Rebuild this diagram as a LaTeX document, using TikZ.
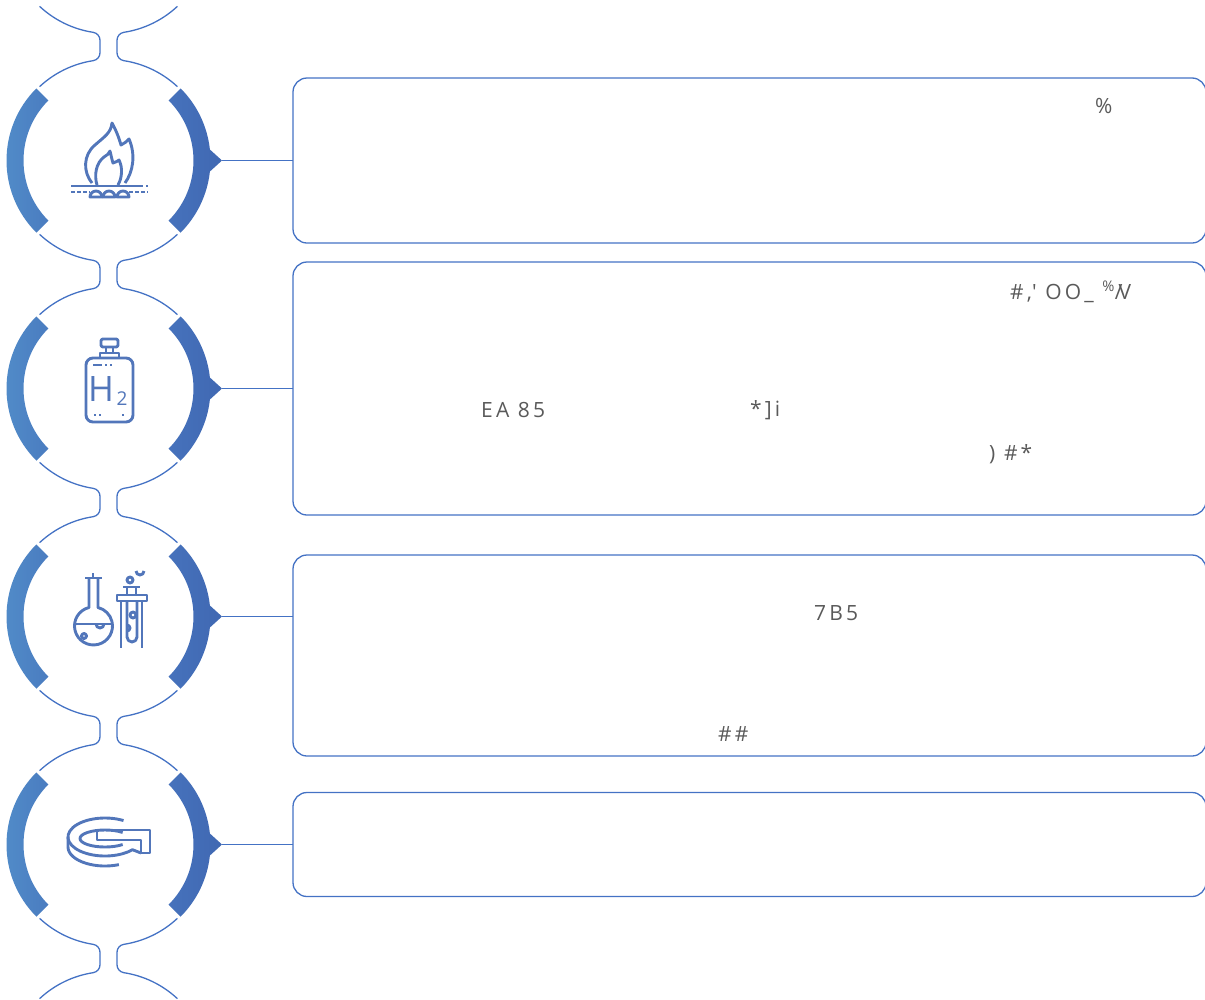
\documentclass[tikz,border=0pt]{standalone}
\usepackage{fontspec}
\setmainfont{Open Sans}
\newfontfamily\txtfont[LetterSpace=15]{Open Sans}
\usetikzlibrary{calc}
\definecolor{thin}{RGB}{68,114,196}
\definecolor{iconc}{RGB}{82,118,186}
\definecolor{arcLa}{RGB}{82,142,202}
\definecolor{arcLb}{RGB}{74,124,192}
\definecolor{arcRa}{RGB}{70,114,188}
\definecolor{arcRb}{RGB}{64,104,178}
\definecolor{txt}{RGB}{90,90,90}
\begin{document}
\begin{tikzpicture}[x=1pt,y=1pt,
  thinline/.style={draw=thin, line width=1.3pt},
  box/.style={draw=thin, line width=1.3pt, rounded corners=14pt, inner sep=0pt, outer sep=0pt},
  icon/.style={draw=iconc, line width=2.9pt, line join=round},
  lbl/.style={text=txt, font=\txtfont\fontsize{21}{25}\selectfont, inner sep=0pt, anchor=west}]
\useasboundingbox (0,0) rectangle (1205,-999);

% thin outline with necks
\foreach \k in {0,...,4} {
  \pgfmathsetmacro\ya{67.5-228*\k}
  \coordinate (A) at (108.5,\ya);
  \draw[thinline] (A) ++(227:101) arc[start angle=227,end angle=261.29,radius=101]
    arc[start angle=81.29,end angle=0,radius=8] -- ++(0,-12.52)
    arc[start angle=0,end angle=-81.29,radius=8]
    arc[start angle=98.71,end angle=133,radius=101];
  \draw[thinline] (A) ++(313:101) arc[start angle=313,end angle=278.71,radius=101]
    arc[start angle=98.71,end angle=180,radius=8] -- ++(0,-12.52)
    arc[start angle=180,end angle=261.29,radius=8]
    arc[start angle=81.29,end angle=47,radius=101];
}

% thick arcs and pointers
\foreach \k/\cy in {1/-160.5,2/-388.5,3/-616.5,4/-844.5} {
  \coordinate (c\k) at (108.5,\cy);
  \coordinate (t\k) at (222,\cy);
  \shade[left color=arcLa, right color=arcLb]
    ($(c\k)+(135:102)$) arc[start angle=135,end angle=225,radius=102]
    -- ($(c\k)+(225:85)$) arc[start angle=225,end angle=135,radius=85] -- cycle;
  \shade[left color=arcRa, right color=arcRb]
    ($(c\k)+(-45:102)$) arc[start angle=-45,end angle=-6.19,radius=102]
    -- (t\k) -- ($(c\k)+(6.19:102)$) arc[start angle=6.19,end angle=45,radius=102]
    -- ($(c\k)+(45:85)$) arc[start angle=45,end angle=-45,radius=85] -- cycle;
}

% boxes
\node[box, minimum width=913pt, minimum height=165pt] (b1) at (749.5,-160.5) {};
\node[box, minimum width=913pt, minimum height=253pt] (b2) at (749.5,-388.5) {};
\node[box, minimum width=913pt, minimum height=201pt] (b3) at (749.5,-655.5) {};
\node[box, minimum width=913pt, minimum height=104pt] (b4) at (749.5,-844.5) {};

% connectors
\draw[thinline] (t1) -- (b1.west);
\draw[thinline] (t2) -- (b2.west);
\draw[thinline] (t3) -- (t3 -| b3.west);
\draw[thinline] (t4) -- (b4.west);

% texts
\node[lbl] (s1) at (1095,-106) {\%};
\node[lbl] (s2) at (1010,-292) {\#,\textquotesingle\ OO\_\ \textsuperscript{\%}/\kern-4pt V};
\node[lbl] (s3) at (481,-410) {EA 85};
\node[lbl] (s4) at (750,-410) {*]i};
\node[lbl] (s5) at (989,-454) {)\ \#*};
\node[lbl] (s6) at (814,-613) {7B5};
\node[lbl] (s7) at (718,-734) {\#\#};

% icon 1: flame on burner
\draw[icon] (92,-183) .. controls (83,-172) and (83,-155) .. (95,-145)
  .. controls (104,-137) and (111,-133) .. (112,-123)
  .. controls (116,-130) and (119,-138) .. (121,-145)
  .. controls (124,-143) and (127,-142) .. (129,-139)
  .. controls (136,-155) and (133,-172) .. (125,-183);
\draw[icon] (97,-185) .. controls (94,-175) and (96,-163) .. (104,-157)
  .. controls (107,-155) and (109,-154) .. (110,-151)
  .. controls (111,-155) and (112,-160) .. (113,-163)
  .. controls (116,-162) and (118,-161) .. (119,-160)
  .. controls (123,-168) and (122,-178) .. (118,-185);
\draw[icon] (71,-186) -- (143,-186);
\draw[icon] (146,-186) -- (148,-186);
\draw[icon, dash pattern=on 4pt off 2pt] (71,-192) -- (90,-192);
\draw[icon, dash pattern=on 4pt off 2pt] (129,-192) -- (148,-192);
\foreach \sx in {96,109,123} {
  \draw[icon] (\sx-6,-197) arc[start angle=180,end angle=0,radius=6] -- cycle;
}

% icon 2: H2 bottle
\draw[icon, rounded corners=7pt] (86,-358) rectangle (133,-422);
\draw[icon] (100,-353) rectangle (119,-358);
\draw[icon] (106,-347) -- (106,-353) (113,-347) -- (113,-353);
\draw[icon, rounded corners=2pt] (101,-339) rectangle (118,-347);
\draw[icon] (93,-365) -- (102,-365) (105,-365) -- (107,-365) (110,-365) -- (112,-365);
\draw[icon] (94,-415) -- (96,-415) (99,-415) -- (101,-415) (122,-415) -- (124,-415);
\node[text=iconc, font=\fontsize{35}{35}\selectfont, inner sep=0pt] (hH) at (101,-389) {H};
\node[text=iconc, font=\fontsize{19}{19}\selectfont, inner sep=0pt] (hTwo) at (122,-399) {2};

% icon 3: flask and test tube
\draw[icon] (85,-578) -- (102,-578) (93,-573) -- (93,-578);
\draw[icon] (89,-578) -- (89,-607.5) arc[start angle=103.7,end angle=436.3,radius=19] -- (98,-578);
\draw[icon] (74.5,-624) -- (112.5,-624);
\draw[icon] (96,-624) arc[start angle=180,end angle=360,radius=4];
\draw[icon] (84,-636) circle[radius=2.5];
\draw[icon] (117,-595) rectangle (147,-601);
\draw[icon] (121,-601) -- (121,-648) (142,-601) -- (142,-648);
\draw[icon] (123,-587) -- (140,-587) (127,-587) -- (127,-595) (136,-587) -- (136,-595);
\draw[icon] (130,-580) circle[radius=3];
\draw[icon] (136,-571) arc[start angle=180,end angle=360,radius=4];
\draw[icon] (127,-601) -- (127,-637) arc[start angle=180,end angle=360,radius=5] -- (137,-601);
\draw[icon] (133,-615) circle[radius=3];
\draw[icon] (127,-625) arc[start angle=90,end angle=-90,radius=3];

% icon 4: disc
\draw[icon] (105,-837) ++(60:37 and 19) arc[start angle=60,end angle=318,x radius=37,y radius=19] -- (141,-853);
\draw[icon] (68,-837) -- (68,-847) arc[start angle=180,end angle=292,x radius=37,y radius=19];
\draw[icon] (105,-838.5) ++(45:25 and 8.5) arc[start angle=45,end angle=315,x radius=25,y radius=8.5];
\draw[icon] (97,-830) -- (150,-830) -- (150,-853) -- (141,-853) -- (141,-840) -- (97,-840) -- cycle;
\end{tikzpicture}
\end{document}
